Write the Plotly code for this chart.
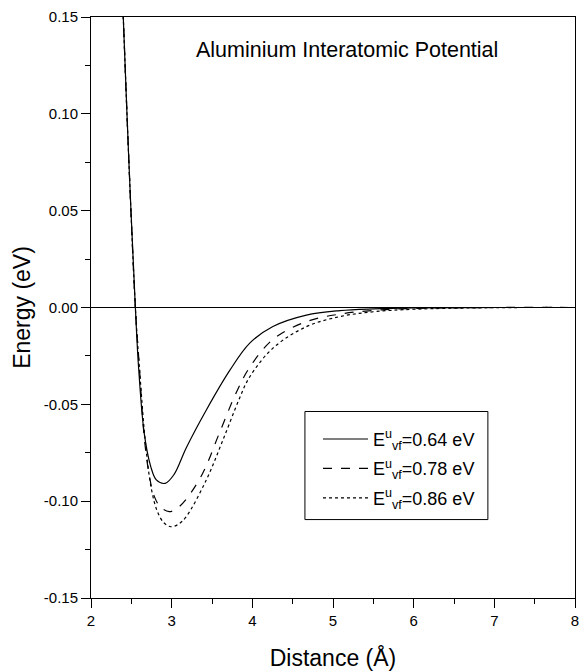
import plotly.graph_objects as go

# distance (Angstrom) and energy (eV)
x_064 = [2.38, 2.40, 2.47, 2.55, 2.59, 2.66, 2.74, 2.81, 2.92, 3.03, 3.18, 3.43,
         3.72, 3.965, 4.255, 4.67, 5.085, 5.5, 6.0, 7.0, 8.0]
y_064 = [0.172, 0.150, 0.075, 0.000, -0.031, -0.065, -0.082, -0.089, -0.0908, -0.0862,
         -0.0725, -0.0529, -0.0325, -0.0185, -0.0098, -0.0039, -0.0016,
         -0.0007, -0.0002, 0.0, 0.0]

x_078 = [2.38, 2.40, 2.47, 2.55, 2.60, 2.66, 2.72, 2.78, 2.86, 2.97, 3.07, 3.18,
         3.385, 3.59, 3.80, 3.965, 4.255, 4.67, 5.085, 5.5, 6.0, 7.0, 8.0]
y_078 = [0.172, 0.150, 0.075, 0.000, -0.031, -0.067, -0.086, -0.097, -0.103, -0.1054,
         -0.1036, -0.099, -0.0856, -0.065, -0.044, -0.031, -0.0165, -0.0073, -0.0034,
         -0.0015, -0.0005, 0.0, 0.0]

x_086 = [2.38, 2.40, 2.47, 2.55, 2.60, 2.68, 2.75, 2.82, 2.90, 2.99, 3.08, 3.18,
         3.43, 3.63, 3.84, 3.965, 4.255, 4.67, 5.085, 5.5, 6.0, 7.0, 8.0]
y_086 = [0.172, 0.150, 0.075, 0.000, -0.031, -0.072, -0.094, -0.105, -0.111, -0.1132,
         -0.112, -0.108, -0.089, -0.069, -0.047, -0.036, -0.021, -0.0099, -0.0047,
         -0.0022, -0.0009, -0.0001, 0.0]

labels = ["E<sup>u</sup><sub>vf</sub>=0.64 eV",
          "E<sup>u</sup><sub>vf</sub>=0.78 eV",
          "E<sup>u</sup><sub>vf</sub>=0.86 eV"]
dashes = ["solid", "dash", "dot"]

x_ticks = [2, 3, 4, 5, 6, 7, 8]
y_ticks = [-0.15, -0.10, -0.05, 0.00, 0.05, 0.10, 0.15]

fig = go.Figure()
for i, (xs, ys, name, dash) in enumerate(zip([x_064, x_078, x_086], [y_064, y_078, y_086], labels, dashes)):
    fig.add_trace(go.Scatter(
        x=xs, y=ys, name=name, mode="lines", legendgroup=f"g{i}",
        line=dict(color="black", width=1.2, dash=dash, shape="spline", smoothing=1.0),
    ))

fig.add_annotation(
    text="Aluminium Interatomic Potential",
    xref="paper", yref="paper", x=0.529, y=0.943, xanchor="center", yanchor="middle",
    showarrow=False, font=dict(size=21.5, color="black"),
)

# legend frame
fig.add_shape(type="rect", xref="paper", yref="paper",
              x0=0.442, x1=0.820, y0=0.135, y1=0.321,
              line=dict(color="black", width=1), fillcolor="white", layer="below")

axis_style = dict(
    showline=True, linecolor="black", linewidth=1, mirror=True,
    ticks="outside", ticklen=9, tickwidth=1, tickcolor="black",
    showgrid=False, tickfont=dict(size=15, color="black"), automargin=False,
    ticklabeloverflow="allow",
)

fig.update_xaxes(
    range=[2, 8], tickmode="array", tickvals=x_ticks, ticktext=[str(v) for v in x_ticks],
    title=dict(text="Distance (Å)", font=dict(size=23, color="black"), standoff=24),
    minor=dict(ticks="outside", ticklen=5, dtick=0.5, tickcolor="black"),
    zeroline=False, **axis_style,
)
fig.update_yaxes(
    range=[-0.15, 0.15], tickmode="array", tickvals=y_ticks,
    ticktext=[f"{v:.2f}" for v in y_ticks],
    title=dict(text="Energy (eV)", font=dict(size=23, color="black"), standoff=6),
    minor=dict(ticks="outside", ticklen=5, dtick=0.025, tickcolor="black"),
    zeroline=True, zerolinecolor="black", zerolinewidth=1.2,
    **axis_style,
)

fig.update_layout(
    width=579, height=671,
    margin=dict(l=91, r=4, t=17, b=73),
    paper_bgcolor="white", plot_bgcolor="white",
    font=dict(family="Liberation Sans, Arial, sans-serif", color="black"),
    showlegend=True,
    legend=dict(
        x=0.469, y=0.305, xanchor="left", yanchor="top",
        borderwidth=0, bgcolor="rgba(0,0,0,0)",
        font=dict(size=18, color="black"),
        itemwidth=45, tracegroupgap=3,
    ),
)

# drop the default body margin so the figure sits at the window origin
fig.write_html("out.html", config={"displayModeBar": False},
               post_script="document.body.style.margin='0';document.body.style.overflow='hidden';")
